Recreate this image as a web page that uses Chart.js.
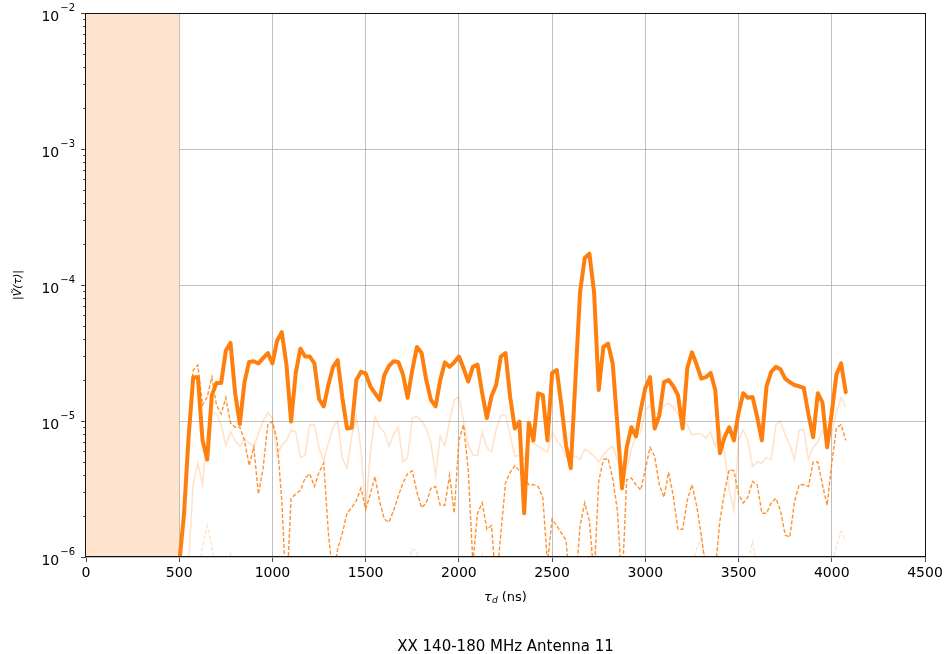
<!DOCTYPE html>
<html>
<head>
<meta charset="utf-8">
<title>XX 140-180 MHz Antenna 11</title>
<script src="https://cdn.jsdelivr.net/npm/chart.js@4.4.1/dist/chart.umd.min.js"></script>
<style>
  html, body { margin: 0; padding: 0; background: #fff; }
  canvas { display: block; }
</style>
</head>
<body>
<canvas id="grafico" width="949" height="654"></canvas>
<script>
// retardos en ns (eje x), uno cada 25 ns
const retardos = [
  500, 525, 550, 575, 600, 625, 650, 675,
  700, 725, 750, 775, 800, 825, 850, 875,
  900, 925, 950, 975, 1000, 1025, 1050, 1075,
  1100, 1125, 1150, 1175, 1200, 1225, 1250, 1275,
  1300, 1325, 1350, 1375, 1400, 1425, 1450, 1475,
  1500, 1525, 1550, 1575, 1600, 1625, 1650, 1675,
  1700, 1725, 1750, 1775, 1800, 1825, 1850, 1875,
  1900, 1925, 1950, 1975, 2000, 2025, 2050, 2075,
  2100, 2125, 2150, 2175, 2200, 2225, 2250, 2275,
  2300, 2325, 2350, 2375, 2400, 2425, 2450, 2475,
  2500, 2525, 2550, 2575, 2600, 2625, 2650, 2675,
  2700, 2725, 2750, 2775, 2800, 2825, 2850, 2875,
  2900, 2925, 2950, 2975, 3000, 3025, 3050, 3075,
  3100, 3125, 3150, 3175, 3200, 3225, 3250, 3275,
  3300, 3325, 3350, 3375, 3400, 3425, 3450, 3475,
  3500, 3525, 3550, 3575, 3600, 3625, 3650, 3675,
  3700, 3725, 3750, 3775, 3800, 3825, 3850, 3875,
  3900, 3925, 3950, 3975, 4000, 4025, 4050, 4075
];

// |V(tau)| linea gruesa
const lineaPrincipal = [
  9e-7, 2.0e-6, 7.5e-6, 2.1e-5, 2.1e-5, 7.2e-6, 5.2e-6, 1.55e-5,
  1.9e-5, 1.9e-5, 3.3e-5, 3.75e-5, 1.6e-5, 9.5e-6, 1.93e-5, 2.72e-5,
  2.75e-5, 2.65e-5, 2.9e-5, 3.16e-5, 2.65e-5, 3.9e-5, 4.5e-5, 2.6e-5,
  9.9e-6, 2.26e-5, 3.4e-5, 2.98e-5, 2.98e-5, 2.65e-5, 1.45e-5, 1.28e-5,
  1.84e-5, 2.5e-5, 2.8e-5, 1.48e-5, 8.8e-6, 8.9e-6, 2.0e-5, 2.3e-5,
  2.24e-5, 1.8e-5, 1.6e-5, 1.43e-5, 2.17e-5, 2.54e-5, 2.75e-5, 2.72e-5,
  2.2e-5, 1.48e-5, 2.37e-5, 3.5e-5, 3.16e-5, 2.0e-5, 1.43e-5, 1.28e-5,
  2.0e-5, 2.7e-5, 2.5e-5, 2.7e-5, 2.98e-5, 2.45e-5, 1.95e-5, 2.5e-5,
  2.6e-5, 1.6e-5, 1.05e-5, 1.52e-5, 1.84e-5, 2.98e-5, 3.16e-5, 1.5e-5,
  8.8e-6, 9.9e-6, 2.1e-6, 9.7e-6, 7.2e-6, 1.6e-5, 1.55e-5, 7.2e-6,
  2.26e-5, 2.37e-5, 1.3e-5, 6.6e-6, 4.5e-6, 2.0e-5, 8.9e-5, 1.58e-4,
  1.7e-4, 8.9e-5, 1.69e-5, 3.5e-5, 3.7e-5, 2.65e-5, 9.4e-6, 3.2e-6,
  6.4e-6, 9.0e-6, 7.7e-6, 1.2e-5, 1.75e-5, 2.1e-5, 8.8e-6, 1.1e-5,
  1.93e-5, 2.0e-5, 1.8e-5, 1.55e-5, 8.8e-6, 2.45e-5, 3.2e-5, 2.6e-5,
  2.05e-5, 2.1e-5, 2.26e-5, 1.69e-5, 5.8e-6, 7.6e-6, 9.0e-6, 7.2e-6,
  1.15e-5, 1.6e-5, 1.48e-5, 1.5e-5, 1.07e-5, 7.2e-6, 1.8e-5, 2.3e-5,
  2.5e-5, 2.4e-5, 2.05e-5, 1.93e-5, 1.84e-5, 1.8e-5, 1.75e-5, 1.12e-5,
  7.6e-6, 1.6e-5, 1.37e-5, 6.4e-6, 1.15e-5, 2.2e-5, 2.65e-5, 1.63e-5
];

// linea discontinua
const lineaDiscontinua = [
  6e-7, 2.5e-6, 9e-6, 2.37e-5, 2.58e-5, 1.31e-5, 1.5e-5, 2.1e-5,
  1.3e-5, 1.13e-5, 1.48e-5, 9.7e-6, 9.0e-6, 9.0e-6, 7.2e-6, 4.7e-6,
  6.4e-6, 2.9e-6, 4.5e-6, 9.4e-6, 9.9e-6, 7.2e-6, 2.6e-6, 5e-7,
  2.7e-6, 2.9e-6, 3.1e-6, 3.8e-6, 4.1e-6, 3.3e-6, 4.2e-6, 4.9e-6,
  1.5e-6, 7e-7, 1.15e-6, 1.5e-6, 2.1e-6, 2.3e-6, 2.6e-6, 3.2e-6,
  2.25e-6, 2.9e-6, 3.9e-6, 2.55e-6, 1.9e-6, 1.8e-6, 2.2e-6, 2.8e-6,
  3.5e-6, 4.1e-6, 4.3e-6, 3.0e-6, 2.3e-6, 2.5e-6, 3.2e-6, 3.3e-6,
  2.4e-6, 2.4e-6, 4.0e-6, 2.1e-6, 7.2e-6, 9.4e-6, 4.4e-6, 9e-7,
  2.1e-6, 2.5e-6, 1.6e-6, 1.7e-6, 6e-7, 1.5e-6, 3.5e-6, 4.2e-6,
  4.7e-6, 4.3e-6, 3.8e-6, 3.4e-6, 3.4e-6, 3.3e-6, 2.75e-6, 9e-7,
  1.9e-6, 1.7e-6, 1.5e-6, 1.33e-6, 5e-7, 6e-7, 1.7e-6, 2.5e-6,
  1.85e-6, 7e-7, 3.6e-6, 5.2e-6, 5.3e-6, 3.8e-6, 2.2e-6, 6e-7,
  3.7e-6, 3.8e-6, 3.4e-6, 3.1e-6, 4.4e-6, 6.4e-6, 5.5e-6, 3.4e-6,
  2.75e-6, 4.2e-6, 2.8e-6, 1.6e-6, 1.6e-6, 2.6e-6, 3.4e-6, 2.4e-6,
  1.45e-6, 8e-7, 5e-7, 8e-7, 1.85e-6, 3.0e-6, 4.4e-6, 4.3e-6,
  2.9e-6, 2.5e-6, 2.75e-6, 3.6e-6, 3.4e-6, 2.1e-6, 2.1e-6, 2.5e-6,
  2.7e-6, 2.2e-6, 1.45e-6, 1.4e-6, 2.55e-6, 3.4e-6, 3.4e-6, 3.3e-6,
  5.0e-6, 5.0e-6, 3.4e-6, 2.4e-6, 4.9e-6, 8.9e-6, 9.4e-6, 7.2e-6
];

// linea tenue continua
const lineaTenue = [
  3e-7, 4e-7, 9e-7, 3.5e-6, 4.9e-6, 3.4e-6, 8.3e-6, 1.16e-5,
  1.13e-5, 9.4e-6, 6.6e-6, 8.3e-6, 7.2e-6, 6.5e-6, 7.4e-6, 6.9e-6,
  6.5e-6, 8.1e-6, 1.0e-5, 1.15e-5, 1.05e-5, 5.6e-6, 6.6e-6, 7.2e-6,
  8.6e-6, 8.3e-6, 5.4e-6, 5.6e-6, 9.4e-6, 9.4e-6, 6.3e-6, 5.1e-6,
  6.9e-6, 9.0e-6, 1.0e-5, 5.3e-6, 4.5e-6, 7.7e-6, 1.08e-5, 6.1e-6,
  2.2e-6, 5.8e-6, 1.07e-5, 9.0e-6, 8.3e-6, 6.5e-6, 8.0e-6, 9.0e-6,
  5.0e-6, 5.4e-6, 1.05e-5, 1.08e-5, 1.0e-5, 8.8e-6, 6.9e-6, 4.0e-6,
  7.7e-6, 6.6e-6, 1.0e-5, 1.43e-5, 1.5e-5, 1.0e-5, 6.7e-6, 5.6e-6,
  5.6e-6, 8.3e-6, 6.4e-6, 5.9e-6, 8.6e-6, 1.1e-5, 1.1e-5, 7.9e-6,
  5.5e-6, 5.6e-6, 5.2e-6, 7.2e-6, 6.9e-6, 6.5e-6, 6.2e-6, 5.9e-6,
  8.3e-6, 7.2e-6, 6.5e-6, 5.4e-6, 5.6e-6, 5.5e-6, 5.2e-6, 6.2e-6,
  5.9e-6, 5.5e-6, 5.0e-6, 5.6e-6, 6.2e-6, 6.5e-6, 5.2e-6, 4.3e-6,
  4.4e-6, 6.2e-6, 7.8e-6, 8.3e-6, 1.2e-5, 1.3e-5, 1.15e-5, 1.1e-5,
  1.3e-5, 1.35e-5, 1.25e-5, 1.13e-5, 1.0e-5, 9.4e-6, 7.9e-6, 8.1e-6,
  8.0e-6, 7.5e-6, 8.3e-6, 6.5e-6, 8.6e-6, 5.8e-6, 3.1e-6, 2.2e-6,
  7.2e-6, 8.6e-6, 7.2e-6, 4.6e-6, 5.0e-6, 4.9e-6, 5.4e-6, 5.2e-6,
  9.4e-6, 1.0e-5, 7.9e-6, 6.7e-6, 5.2e-6, 8.6e-6, 8.6e-6, 5.2e-6,
  6.4e-6, 7.0e-6, 8.6e-6, 7.0e-6, 8.1e-6, 1.16e-5, 1.48e-5, 1.27e-5
];

// linea tenue discontinua (casi toda por debajo de 1e-6)
const lineaTenueDiscontinua = [
  1.5e-7, 2e-7, 3e-7, 4e-7, 7e-7, 1.2e-6, 1.7e-6, 1.2e-6,
  6e-7, 4e-7, 7e-7, 1.05e-6, 6e-7, 3e-7, 4e-7, 5e-7,
  4e-7, 3e-7, 5e-7, 4e-7, 3e-7, 2e-7, 4e-7, 5e-7,
  3e-7, 4e-7, 5e-7, 3e-7, 2e-7, 4e-7, 6e-7, 4e-7,
  3e-7, 5e-7, 4e-7, 3e-7, 2e-7, 4e-7, 5e-7, 3e-7,
  4e-7, 6e-7, 4e-7, 3e-7, 5e-7, 7e-7, 5e-7, 4e-7,
  6e-7, 8e-7, 1.15e-6, 1.1e-6, 6e-7, 4e-7, 3e-7, 4e-7,
  5e-7, 3e-7, 4e-7, 6e-7, 4e-7, 3e-7, 5e-7, 7e-7,
  9e-7, 1.05e-6, 7e-7, 4e-7, 3e-7, 5e-7, 4e-7, 3e-7,
  4e-7, 5e-7, 3e-7, 4e-7, 6e-7, 4e-7, 3e-7, 5e-7,
  4e-7, 3e-7, 5e-7, 4e-7, 3e-7, 5e-7, 7e-7, 9e-7,
  1.05e-6, 1.2e-6, 8e-7, 5e-7, 4e-7, 3e-7, 4e-7, 5e-7,
  3e-7, 4e-7, 5e-7, 3e-7, 4e-7, 6e-7, 4e-7, 3e-7,
  4e-7, 5e-7, 3e-7, 4e-7, 5e-7, 6e-7, 8e-7, 1.15e-6,
  1.4e-6, 9e-7, 5e-7, 4e-7, 3e-7, 5e-7, 4e-7, 3e-7,
  4e-7, 6e-7, 9e-7, 1.3e-6, 8e-7, 5e-7, 4e-7, 3e-7,
  5e-7, 4e-7, 6e-7, 8e-7, 5e-7, 3e-7, 4e-7, 5e-7,
  3e-7, 4e-7, 5e-7, 7e-7, 9e-7, 1.2e-6, 1.55e-6, 1.3e-6
];

// ticks y zona sombreada
const ticksX = [0, 500, 1000, 1500, 2000, 2500, 3000, 3500, 4000, 4500];
const ticksY = [1e-6, 1e-5, 1e-4, 1e-3, 1e-2];
const zonaSombreada = [0, 500];
const tituloGrafico = "XX 140-180 MHz Antenna 11";

const naranjo = (a) => `rgba(255, 127, 14, ${a})`;
const FUENTE = "'DejaVu Sans', sans-serif";

function puntos(valores) {
  return retardos.map((r, i) => ({ x: r, y: valores[i] }));
}

// dibuja sombreado, ticks menores, marco y textos
const decoracion = {
  id: "decoracion",
  beforeDatasetsDraw(chart) {
    const { ctx, chartArea: a, scales: { x } } = chart;
    const x0 = x.getPixelForValue(zonaSombreada[0]);
    const x1 = x.getPixelForValue(zonaSombreada[1]);
    ctx.save();
    ctx.fillStyle = "rgb(254, 228, 207)";
    ctx.fillRect(x0, a.top, x1 - x0, a.bottom - a.top);
    ctx.strokeStyle = "rgba(200, 185, 172, 0.8)";
    ctx.lineWidth = 1;
    ctx.beginPath();
    ctx.moveTo(Math.round(x1) + 0.5, a.top);
    ctx.lineTo(Math.round(x1) + 0.5, a.bottom);
    ctx.stroke();
    ctx.restore();
  },
  afterDraw(chart) {
    const { ctx, chartArea: a, scales: { y } } = chart;
    ctx.save();
    // ticks menores del eje log
    ctx.strokeStyle = "#222";
    ctx.lineWidth = 0.8;
    ctx.beginPath();
    for (let i = 0; i < ticksY.length - 1; i++) {
      for (let m = 2; m <= 9; m++) {
        const py = Math.round(y.getPixelForValue(ticksY[i] * m)) + 0.5;
        ctx.moveTo(a.left - 3, py);
        ctx.lineTo(a.left, py);
      }
    }
    ctx.stroke();

    // marco
    ctx.strokeStyle = "#111";
    ctx.lineWidth = 1;
    ctx.strokeRect(Math.round(a.left) - 0.5, Math.round(a.top) + 0.5,
      Math.round(a.right - a.left) + 1, Math.round(a.bottom - a.top) - 1);

    ctx.fillStyle = "#000";
    ctx.textBaseline = "alphabetic";
    ctx.textAlign = "left";

    // etiquetas del eje y: 10 con exponente
    for (const v of ticksY) {
      const py = y.getPixelForValue(v);
      const exp = "\u2212" + String(Math.abs(Math.round(Math.log10(v))));
      ctx.font = `10px ${FUENTE}`;
      const wExp = ctx.measureText(exp).width;
      ctx.font = `14px ${FUENTE}`;
      const wBase = ctx.measureText("10").width;
      const derecha = a.left - 11;
      ctx.fillText("10", derecha - wExp - wBase - 1, py + 8);
      ctx.font = `10px ${FUENTE}`;
      ctx.fillText(exp, derecha - wExp, py - 2);
    }

    const cx = (a.left + a.right) / 2;

    // titulo eje x: tau_d (ns)
    const fx = 13;
    ctx.font = `italic ${fx}px ${FUENTE}`;
    const wTau = ctx.measureText("\u03C4").width;
    ctx.font = `italic ${fx * 0.7}px ${FUENTE}`;
    const wD = ctx.measureText("d").width;
    ctx.font = `${fx}px ${FUENTE}`;
    const wNs = ctx.measureText(" (ns)").width;
    let px = cx - (wTau + wD + wNs) / 2;
    const by = 601;
    ctx.font = `italic ${fx}px ${FUENTE}`;
    ctx.fillText("\u03C4", px, by);
    px += wTau;
    ctx.font = `italic ${fx * 0.7}px ${FUENTE}`;
    ctx.fillText("d", px, by + 2);
    px += wD;
    ctx.font = `${fx}px ${FUENTE}`;
    ctx.fillText(" (ns)", px, by);

    // titulo eje y
    ctx.translate(21, (a.top + a.bottom) / 2);
    ctx.rotate(-Math.PI / 2);
    ctx.textAlign = "center";
    ctx.font = `italic 11px ${FUENTE}`;
    ctx.fillText("|\u1E7C(\u03C4)|", 0, 0);
    ctx.setTransform(1, 0, 0, 1, 0, 0);

    // titulo inferior
    ctx.textAlign = "center";
    ctx.font = `15px ${FUENTE}`;
    ctx.fillText(tituloGrafico, cx, 651);
    ctx.restore();
  }
};

const comunes = { pointRadius: 0, tension: 0, fill: false };

new Chart(document.getElementById("grafico"), {
  type: "line",
  data: {
    datasets: [
      { ...comunes, data: puntos(lineaPrincipal), borderColor: "#ff7f0e", borderWidth: 4,
        borderJoinStyle: "round", borderCapStyle: "round" },
      { ...comunes, data: puntos(lineaDiscontinua), borderColor: naranjo(0.85), borderWidth: 1.4,
        borderDash: [4, 2] },
      { ...comunes, data: puntos(lineaTenue), borderColor: naranjo(0.22), borderWidth: 1.6 },
      { ...comunes, data: puntos(lineaTenueDiscontinua), borderColor: naranjo(0.22), borderWidth: 1.4,
        borderDash: [4, 2] }
    ]
  },
  options: {
    responsive: false,
    animation: false,
    devicePixelRatio: 1,
    layout: { padding: { left: 0, right: 24, top: 13, bottom: 0 } },
    plugins: { legend: { display: false }, tooltip: { enabled: false }, title: { display: false } },
    scales: {
      x: {
        type: "linear",
        min: 0,
        max: 4500,
        afterBuildTicks: (s) => { s.ticks = ticksX.map((v) => ({ value: v })); },
        afterFit: (s) => { s.height = 97; },
        ticks: { color: "#000", font: { family: FUENTE, size: 14 }, padding: 3, maxRotation: 0, autoSkip: false,
          callback: (v) => String(v) },
        grid: { color: "#b0b0b0", lineWidth: 0.8, tickLength: 5, tickColor: "#222", tickWidth: 0.8 },
        border: { display: false }
      },
      y: {
        type: "logarithmic",
        min: 1e-6,
        max: 1e-2,
        afterBuildTicks: (s) => { s.ticks = ticksY.map((v) => ({ value: v })); },
        afterFit: (s) => { s.width = 86; },
        ticks: { display: false },
        grid: { color: "#b0b0b0", lineWidth: 0.8, tickLength: 5, tickColor: "#222", tickWidth: 0.8 },
        border: { display: false }
      }
    }
  },
  plugins: [decoracion]
});
</script>
</body>
</html>
